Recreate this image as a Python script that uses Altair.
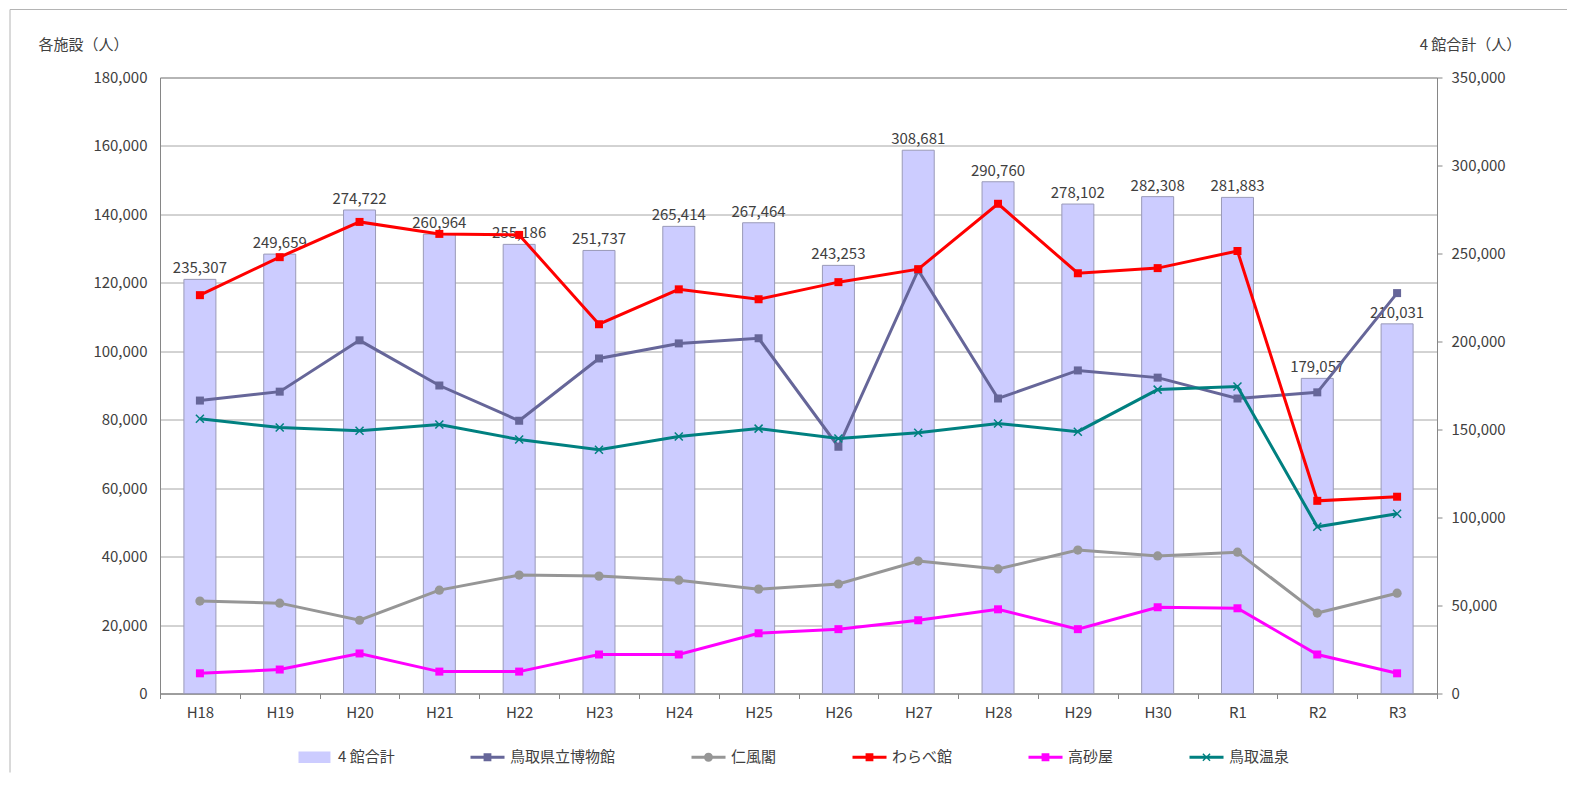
import altair as alt
import pandas as pd

years = ["H18", "H19", "H20", "H21", "H22", "H23", "H24", "H25",
         "H26", "H27", "H28", "H29", "H30", "R1", "R2", "R3"]
total = [235307, 249659, 274722, 260964, 255186, 251737, 265414, 267464,
         243253, 308681, 290760, 278102, 282308, 281883, 179057, 210031]
museum = [85600, 88200, 103200, 90000, 79700, 97900, 102300, 103800,
          72100, 123700, 86200, 94400, 92300, 86200, 88000, 117000]
jinpukaku = [27000, 26400, 21400, 30200, 34600, 34300, 33100, 30500,
             32000, 38700, 36400, 41900, 40200, 41300, 23500, 29300]
warabe = [116400, 127500, 137800, 134300, 134000, 107900, 118100, 115200,
          120200, 124000, 143100, 122800, 124300, 129300, 56300, 57500]
takasago = [5900, 7000, 11700, 6400, 6400, 11400, 11400, 17600,
            18800, 21400, 24600, 18800, 25200, 24900, 11400, 5900]
onsen = [80300, 77700, 76800, 78600, 74200, 71200, 75100, 77400,
         74500, 76200, 78900, 76500, 88800, 89700, 48700, 52500]

bar_name = "4 館合計"
series_names = ["鳥取県立博物館", "仁風閣", "わらべ館", "高砂屋", "鳥取温泉"]
series_values = [museum, jinpukaku, warabe, takasago, onsen]
series_colors = ["#666699", "#969696", "#ff0000", "#ff00ff", "#008080"]
series_markers = ["square", "circle", "square", "square", "M-1,-1L1,1M-1,1L1,-1"]

left_ticks = list(range(0, 180001, 20000))
right_ticks = list(range(0, 350001, 50000))

# ---- tables ----
bar_df = pd.DataFrame({"year": years, "total": total})
rows = []
for name, vals in zip(series_names, series_values):
    for y, v in zip(years, vals):
        rows.append({"year": y, "series": name, "value": v})
line_df = pd.DataFrame(rows)

legend_names = [bar_name] + series_names
legend_colors = ["#ccccff"] + series_colors

# legend glyph paths (unit = 6px with symbolSize 144, centre at 6px)
line_part = "M-1,-0.25L4.67,-0.25L4.67,0.25L-1,0.25Z"
cx = 1.83
sq = f"M{cx-0.65},-0.65L{cx+0.65},-0.65L{cx+0.65},0.65L{cx-0.65},0.65Z"
circ = f"M{cx+0.75},0A0.75,0.75 0 1,1 {cx-0.75},0A0.75,0.75 0 1,1 {cx+0.75},0Z"
arm1 = f"M{cx-0.52},-0.68L{cx+0.68},0.52L{cx+0.52},0.68L{cx-0.68},-0.52Z"
arm2 = f"M{cx-0.68},0.52L{cx+0.52},-0.68L{cx+0.68},-0.52L{cx-0.52},0.68Z"
legend_paths = [
    "M-1,-0.95L4.33,-0.95L4.33,0.95L-1,0.95Z",
    line_part + sq,
    line_part + circ,
    line_part + sq,
    line_part + sq,
    line_part + arm1 + arm2,
]

font = "Noto Sans CJK JP"
txt = "#404040"
axis_col = "#868686"

x_enc = alt.X(
    "year:N",
    sort=years,
    scale=alt.Scale(domain=years, paddingInner=0, paddingOuter=0),
    axis=alt.Axis(title=None, labelAngle=0, tickBand="extent", tickSize=5,
                  tickColor=axis_col, labelPadding=7, domainColor=axis_col,
                  grid=False),
)

y_left = alt.Y(
    "value:Q",
    scale=alt.Scale(domain=[0, 180000], nice=False),
    axis=alt.Axis(orient="left", values=left_ticks, format=",.0f", grid=True,
                  gridColor="#a6a6a6", ticks=False, labelPadding=13,
                  domainColor=axis_col,
                  title="各施設（人）", titleAngle=0, titleAlign="left",
                  titleBaseline="middle", titleX=-122, titleY=-33.5),
)

y_right = alt.Y(
    "total:Q",
    scale=alt.Scale(domain=[0, 350000], nice=False),
    axis=alt.Axis(orient="right", values=right_ticks, format=",.0f", grid=False,
                  ticks=True, tickSize=5, tickColor=axis_col, labelPadding=9,
                  domainColor=axis_col,
                  title="4 館合計（人）", titleAngle=0, titleAlign="center",
                  titleBaseline="middle", titleX=33, titleY=-33.5),
)

color_scale = alt.Scale(domain=legend_names, range=legend_colors)
legend_cfg = dict(orient="none", legendX=137, legendY=672, direction="horizontal",
                  columns=6, title=None)
color_enc = alt.Color("series:N", scale=color_scale, legend=alt.Legend(**legend_cfg))

bars = alt.Chart(bar_df).mark_bar(size=32, color="#ccccff", stroke="#9a9ab8",
                                   strokeWidth=1).encode(x=x_enc, y=y_right)
bar_text = alt.Chart(bar_df).mark_text(baseline="bottom", dy=-3, fontSize=15,
                                       color=txt, font=font).encode(
    x=x_enc, y=y_right, text=alt.Text("total:Q", format=","))
bar_layer = alt.layer(bars, bar_text)

line_layers = []
for name, color, marker in zip(series_names, series_colors, series_markers):
    base = alt.Chart(line_df).transform_filter(
        alt.FieldEqualPredicate(field="series", equal=name))
    enc = dict(x=x_enc, y=y_left, color=color_enc)
    line_layers.append(base.mark_line(strokeWidth=3).encode(**enc))
    if marker.startswith("M"):
        pts = base.mark_point(filled=False, shape=marker, size=64,
                              strokeWidth=1.5, opacity=1).encode(**enc)
    else:
        pts = base.mark_point(filled=True, shape=marker,
                              size=64 if marker == "square" else 85,
                              opacity=1).encode(**enc)
    line_layers.append(pts)

legend_layer = alt.Chart(line_df).transform_filter("false").mark_point(
    filled=True, opacity=1).encode(
    color=color_enc,
    shape=alt.Shape("series:N", scale=alt.Scale(domain=legend_names, range=legend_paths),
                    legend=alt.Legend(**legend_cfg)),
)

lines_layer = alt.layer(legend_layer, *line_layers)

one = pd.DataFrame({"k": [0]})
frame_top = alt.Chart(one).mark_rule(color="#b4b4b4", strokeWidth=1).encode(
    x=alt.value(-150), x2=alt.value(1407), y=alt.value(-68))
frame_left = alt.Chart(one).mark_rule(color="#b4b4b4", strokeWidth=1).encode(
    x=alt.value(-150), y=alt.value(-68), y2=alt.value(695))

chart = alt.layer(bar_layer, lines_layer, frame_top, frame_left).resolve_scale(
    y="independent"
).properties(
    width=1277, height=616,
    autosize=alt.AutoSizeParams(type="none"),
    padding={"left": 152, "top": 69.5, "right": 130, "bottom": 79.5},
).configure(font=font).configure_view(
    stroke="#898989", strokeWidth=1
).configure_axis(
    labelFont=font, labelFontSize=15, labelColor=txt,
    titleFont=font, titleFontSize=15, titleFontWeight="normal", titleColor=txt,
).configure_legend(
    labelFont=font, labelFontSize=15, labelColor=txt, symbolSize=144,
    symbolStrokeWidth=0, columnPadding=74, labelOffset=26, symbolOffset=0,
)

chart.save("out.html", embed_options={"renderer": "svg", "actions": False})
